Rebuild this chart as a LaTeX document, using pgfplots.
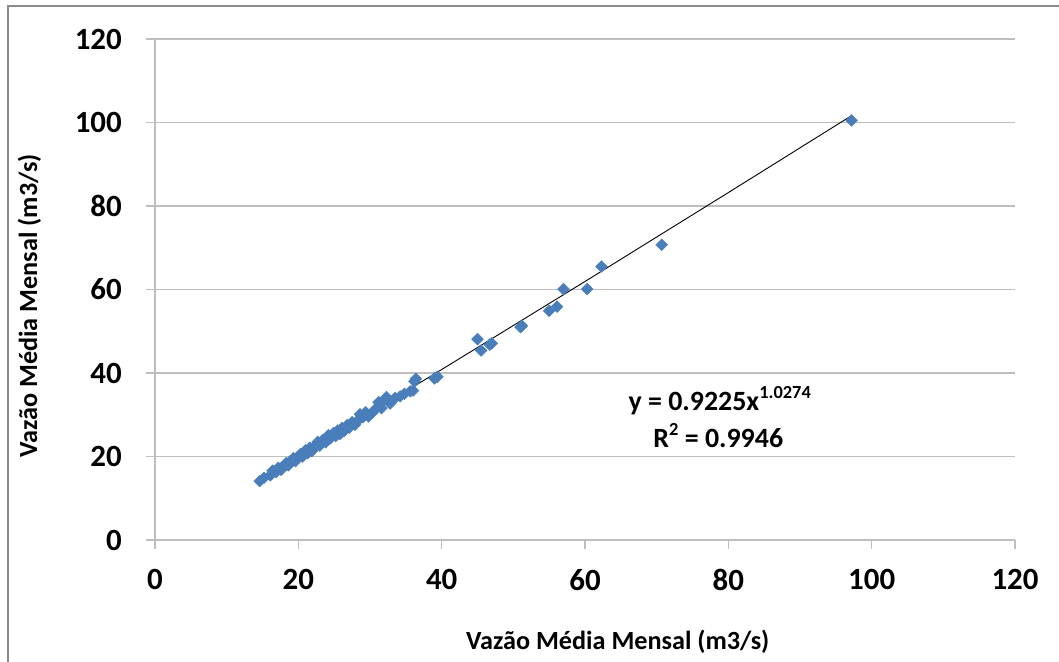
\documentclass[border=0pt]{standalone}
\usepackage{pgfplots}
\pgfplotsset{compat=1.18}
\usepackage{fontspec}
\setmainfont{Carlito}
\definecolor{ser}{HTML}{4A7EBB}
\definecolor{grd}{HTML}{BEBEBE}
\definecolor{frm}{HTML}{8C8C8C}
\begin{document}
\begin{tikzpicture}[x=1bp,y=1bp]
\useasboundingbox (0,0) rectangle (1059,662);
\draw[frm, line width=1.2bp] (8,-10) -- (8,656) -- (1070,656);
\begin{axis}[
  at={(155bp,122bp)}, anchor=south west,
  scale only axis, width=860bp, height=501bp,
  xmin=0, xmax=120, ymin=0, ymax=120,
  xtick={0,20,...,120}, ytick={0,20,...,120},
  axis lines=left, axis line style={grd, line width=1.3bp, -},
  ymajorgrids, grid style={grd, line width=1.3bp},
  tick align=outside, major tick length=9bp,
  tick style={grd, line width=1.3bp},
  xtick pos=bottom, ytick pos=left,
  /pgf/number format/assume math mode=true,
  ticklabel style={font=\fontsize{31}{33}\selectfont\bfseries},
  yticklabel style={anchor=east, inner sep=0pt, xshift=-24bp},
  xticklabel style={anchor=north, inner sep=0pt, yshift=-20bp},
  label style={font=\fontsize{26.3}{28}\selectfont\bfseries},
  xlabel={Vazão Média Mensal (m3/s)},
  ylabel={Vazão Média Mensal (m3/s)},
  xlabel style={at={(rel axis cs:0.538,-0.2176)}, anchor=base},
  ylabel style={at={(rel axis cs:-0.1372,0.467)}, anchor=base},
  clip=false,
]
\addplot[black, line width=0.9bp] coordinates {
(14.5,14.39) (20,20.03) (30,30.38) (40,40.83) (60,61.92) (80,83.21) (97.2,101.65)};
\addplot[only marks, mark=square*, mark size=4.2bp, mark options={rotate=45, fill=ser, draw=ser}] coordinates {
(14.6,14.1) (15.2,14.9) (16.1,15.5) (16.4,16.6) (16.9,16.3) (17.2,17.3) (17.6,16.8) (17.9,17.6)
(18.3,18.4) (18.6,17.9) (18.9,18.9) (19.3,19.6) (19.6,18.9) (19.9,19.9) (20.3,20.6) (20.6,20.0)
(21.0,21.5) (21.3,20.8) (21.6,22.1) (21.9,21.3) (22.3,22.4) (22.7,23.5) (23.0,22.6) (23.4,23.9)
(23.8,23.4) (24.2,25.1) (24.5,24.4) (24.9,25.6) (25.2,24.9) (25.5,26.2) (25.8,25.4) (26.1,26.8)
(26.4,26.1) (26.8,27.5) (27.1,26.9) (27.5,28.2) (27.9,27.6) (28.3,28.6) (28.6,30.1) (29.0,29.4)
(29.4,30.6) (29.8,29.6) (30.3,30.5) (30.8,31.4) (31.2,33.0) (31.6,31.6) (32.0,33.6) (32.3,34.2)
(32.8,32.7) (33.5,34.0) (34.2,34.4) (34.8,35.0) (35.6,35.6) (36.0,35.8) (36.4,38.6) (36.2,38.0)
(39.0,38.7) (39.4,39.1)
(45.0,48.1) (45.5,45.4) (46.7,46.8) (47.0,47.1) (51.0,51.0) (51.2,51.3) (55.0,54.9) (56.1,55.9)
(57.0,60.1) (60.3,60.1) (62.3,65.5) (70.7,70.7) (97.2,100.5)};
\node[font=\fontsize{28}{30}\selectfont\bfseries] at (axis cs:78.8,33.3) {y = 0.9225x\raisebox{0.42em}{\fontsize{18.5}{19}\selectfont 1.0274}};
\node[font=\fontsize{28}{30}\selectfont\bfseries] at (axis cs:78.6,25.1) {R\raisebox{0.42em}{\fontsize{18.5}{19}\selectfont 2} = 0.9946};
\end{axis}
\end{tikzpicture}
\end{document}
